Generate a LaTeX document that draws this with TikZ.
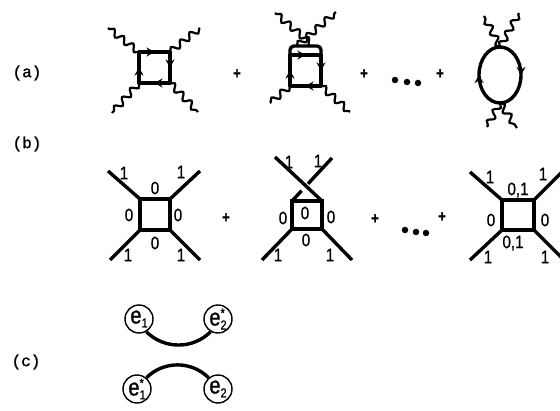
\documentclass[tikz,border=0pt]{standalone}
\usepackage{fontspec}
\usepackage{tikz}
\usetikzlibrary{arrows.meta,calc,decorations.pathmorphing,decorations.markings}
\newfontfamily\digf[FakeStretch=0.84,FakeBold=0.8]{Liberation Sans}
\newfontfamily\tagf[FakeBold=1.5]{Liberation Mono}
\tikzset{
  fer/.style={line width=3.4pt, line cap=round, line join=round},
  leg/.style={line width=3.4pt},
  pht/.style={line width=2.2pt, decorate, decoration={snake, amplitude=3.2pt, segment length=12pt}},
  midarr/.style={postaction={decorate, decoration={markings, mark=at position 0.5 with {\arrow{Stealth[length=8pt,width=9pt]}}}}},
  num/.style={font=\digf\fontsize{18}{18}\selectfont, inner sep=0pt},
  tagn/.style={font=\tagf\fontsize{16}{16}\selectfont, inner sep=0pt},
  pls/.style={font=\digf\bfseries\fontsize{16}{16}\selectfont, inner sep=0pt},
  dotn/.style={circle, fill, inner sep=0pt, minimum size=6.5pt},
  blob/.style={circle, draw, line width=1.4pt, minimum size=28pt, inner sep=0pt, font=\digf\fontsize{24}{24}\selectfont},
  bnd/.style={line width=3.4pt},
}
\newcommand{\sbx}[1]{\raisebox{-4pt}{\fontsize{13}{13}\selectfont #1}}
\newcommand{\ssx}[1]{\raisebox{-4pt}{\fontsize{13}{13}\selectfont\shortstack[l]{*\\#1}}}
\begin{document}
\begin{tikzpicture}[x=1pt,y=1pt]
  \useasboundingbox (0,0) rectangle (560,410);
  \clip (0,0) rectangle (560,410);
  \node[tagn] (ta) at (27,337) {(a)};
  \node[tagn] (tb) at (27,266) {(b)};
  \node[tagn] (tc) at (26,48) {(c)};

  \coordinate (a1tl) at (139,358); \coordinate (a1tr) at (170,358);
  \coordinate (a1br) at (170,327); \coordinate (a1bl) at (139,327);
  \coordinate (a1p1) at (108,382); \coordinate (a1p2) at (200,382);
  \coordinate (a1p3) at (112,297); \coordinate (a1p4) at (198,298);
  \draw[pht] (a1tl) -- (a1p1);
  \draw[pht] (a1tr) -- (a1p2);
  \draw[pht] (a1bl) -- (a1p3);
  \draw[pht] (a1br) -- (a1p4);
  \draw[fer,midarr] (a1tl) -- (a1tr);
  \draw[fer,midarr] (a1tr) -- (a1br);
  \draw[fer,midarr] (a1br) -- (a1bl);
  \draw[fer,midarr] (a1bl) -- (a1tl);
  \node[pls] (pa1) at (237,336) {+};

  \coordinate (a2tl) at (290,355); \coordinate (a2tr) at (321,355);
  \coordinate (a2br) at (321,324); \coordinate (a2bl) at (290,324);
  \coordinate (a2v1) at (297,364); \coordinate (a2v2) at (314,364);
  \coordinate (a2q1) at (275,397); \coordinate (a2q2) at (336,398);
  \coordinate (a2q3) at (270,307); \coordinate (a2q4) at (350,298);
  \draw[pht] (a2v2) -- (a2q1);
  \draw[pht] (a2v1) -- (a2q2);
  \draw[pht] (a2bl) -- (a2q3);
  \draw[pht] (a2br) -- (a2q4);
  \draw[fer,rounded corners=4pt] (a2tl) -- (290,364) -- (321,364) -- (a2tr);
  \draw[fer,midarr] (a2tl) -- (a2tr);
  \draw[fer,midarr] (a2tr) -- (a2br);
  \draw[fer,midarr] (a2br) -- (a2bl);
  \draw[fer,midarr] (a2bl) -- (a2tl);
  \node[pls] (pa2) at (364,336) {+};
  \node[dotn] (da1) at (395,330) {};
  \node[dotn] (da2) at (407,328) {};
  \node[dotn] (da3) at (418,327) {};
  \node[pls] (pa3) at (440,336) {+};

  \coordinate (a3t) at (500,363); \coordinate (a3b) at (500,307);
  \coordinate (a3q1) at (484,394); \coordinate (a3q2) at (519,397);
  \coordinate (a3q3) at (487,283); \coordinate (a3q4) at (517,282);
  \draw[pht] (a3t) -- (a3q1);
  \draw[pht] (a3t) -- (a3q2);
  \draw[pht] (a3b) -- (a3q3);
  \draw[pht] (a3b) -- (a3q4);
  \draw[fer,midarr] (a3t) arc[start angle=90,end angle=-90,x radius=21,y radius=28];
  \draw[fer,midarr] (a3b) arc[start angle=-90,end angle=-270,x radius=21,y radius=28];

  \coordinate (b1tl) at (140,211); \coordinate (b1tr) at (170,211);
  \coordinate (b1br) at (170,180); \coordinate (b1bl) at (140,180);
  \coordinate (b1p1) at (108,239); \coordinate (b1p2) at (200,239);
  \coordinate (b1p3) at (110,150); \coordinate (b1p4) at (200,150);
  \draw[leg] (b1tl) -- (b1p1);
  \draw[leg] (b1tr) -- (b1p2);
  \draw[leg] (b1bl) -- (b1p3);
  \draw[leg] (b1br) -- (b1p4);
  \draw[leg] (b1tl) -- (b1tr) -- (b1br) -- (b1bl) -- cycle;
  \node[num] (b1n1) at (124,237) {1};
  \node[num] (b1n2) at (181,238) {1};
  \node[num] (b1n3) at (155,222) {0};
  \node[num] (b1n4) at (129,195) {0};
  \node[num] (b1n5) at (178,195) {0};
  \node[num] (b1n6) at (155,167) {0};
  \node[num] (b1n7) at (128,155) {1};
  \node[num] (b1n8) at (181,155) {1};
  \node[pls] (pb1) at (226,192) {+};

  \coordinate (b2tl) at (292,209); \coordinate (b2tr) at (322,209);
  \coordinate (b2br) at (322,181); \coordinate (b2bl) at (292,181);
  \coordinate (b2p1) at (275,253); \coordinate (b2p2) at (332,252);
  \coordinate (b2p3) at (262,150); \coordinate (b2p4) at (352,150);
  \draw[leg] (b2p2) -- ($(b2p2)!0.6!(b2tl)$);
  \draw[leg] ($(b2p2)!0.76!(b2tl)$) -- (b2tl);
  \draw[leg] (b2p1) -- (b2tr);
  \draw[leg] (b2bl) -- (b2p3);
  \draw[leg] (b2br) -- (b2p4);
  \draw[leg] (b2tl) -- (b2tr) -- (b2br) -- (b2bl) -- cycle;
  \node[num] (b2n1) at (289,248) {1};
  \node[num] (b2n2) at (318,249) {1};
  \node[num] (b2n3) at (305,197) {0};
  \node[num] (b2n4) at (283,192) {0};
  \node[num] (b2n5) at (331,193) {0};
  \node[num] (b2n6) at (306,170) {0};
  \node[num] (b2n7) at (278,155) {1};
  \node[num] (b2n8) at (330,155) {1};
  \node[pls] (pb2) at (375,191) {+};
  \node[dotn] (db1) at (405,180) {};
  \node[dotn] (db2) at (416,178) {};
  \node[dotn] (db3) at (426,177) {};
  \node[pls] (pb3) at (442,193) {+};

  \coordinate (b3tl) at (502,210); \coordinate (b3tr) at (534,210);
  \coordinate (b3br) at (534,180); \coordinate (b3bl) at (502,180);
  \coordinate (b3p1) at (470,238); \coordinate (b3p2) at (564,240);
  \coordinate (b3p3) at (470,150); \coordinate (b3p4) at (564,150);
  \draw[leg] (b3tl) -- (b3p1);
  \draw[leg] (b3tr) -- (b3p2);
  \draw[leg] (b3bl) -- (b3p3);
  \draw[leg] (b3br) -- (b3p4);
  \draw[leg] (b3tl) -- (b3tr) -- (b3br) -- (b3bl) -- cycle;
  \node[num] (b3n1) at (490,233) {1};
  \node[num] (b3n2) at (543,236) {1};
  \node[num] (b3n3) at (518,220) {0,1};
  \node[num] (b3n4) at (491,190) {0};
  \node[num] (b3n5) at (545,190) {0};
  \node[num] (b3n6) at (513,167) {0,1};
  \node[num] (b3n7) at (488,153) {1};
  \node[num] (b3n8) at (545,153) {1};

  \node[blob] (e1) at (139,91) {e\sbx{1}};
  \node[blob] (e2s) at (218,91) {e\ssx{2}};
  \node[blob] (e1s) at (137,21) {e\ssx{1}};
  \node[blob] (e2) at (218,21) {e\sbx{2}};
  \draw[bnd] (e1.-60) to[out=-45,in=-135] (e2s.-120);
  \draw[bnd] (e1s.50) to[out=45,in=135] (e2.130);
\end{tikzpicture}
\end{document}
